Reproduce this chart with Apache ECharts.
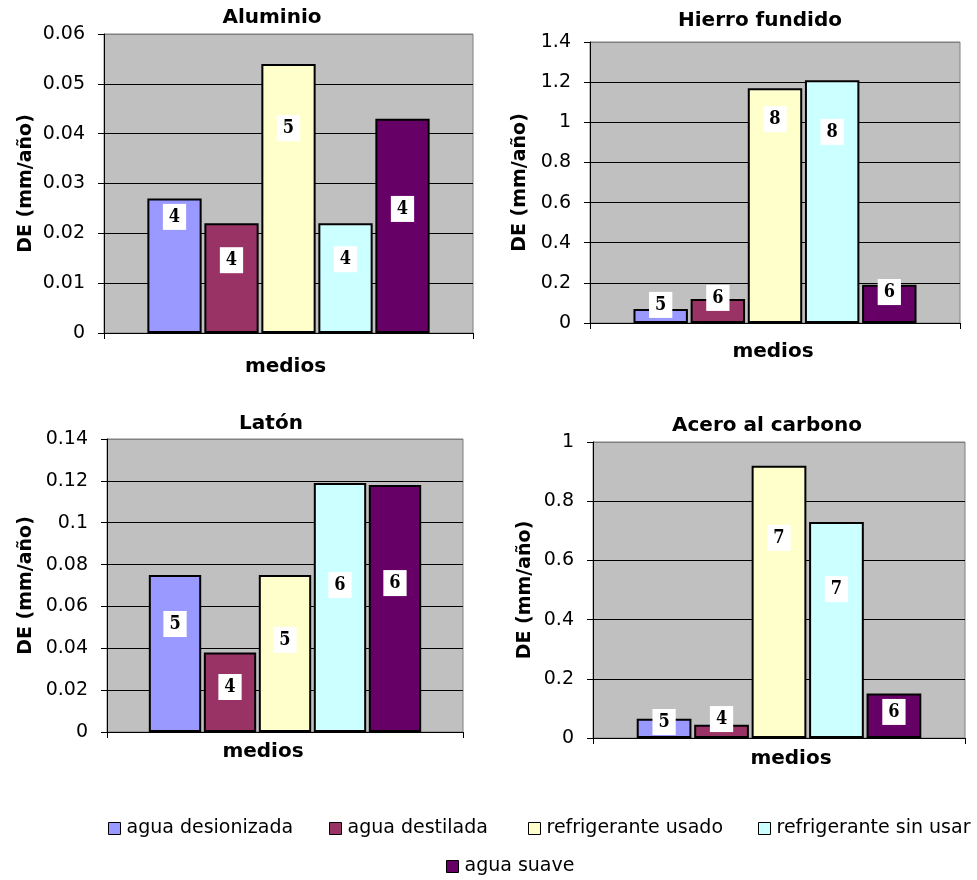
<!DOCTYPE html>
<html>
<head>
<meta charset="utf-8">
<script src="https://cdn.jsdelivr.net/npm/echarts@6/dist/echarts.min.js"></script>
<style>
  html, body { margin: 0; padding: 0; background: #ffffff; }
  #chart { width: 977px; height: 880px; }
</style>
</head>
<body>
<div id="chart"></div>
<script>
// ---- data ----
const seriesNames = ['agua desionizada', 'agua destilada', 'refrigerante usado', 'refrigerante sin usar', 'agua suave'];
const chartTitles = ['Aluminio', 'Hierro fundido', 'Latón', 'Acero al carbono'];
const categoryName = 'medios';
const yAxisName = 'DE (mm/año)';

const aluminioValues = [0.027, 0.022, 0.054, 0.022, 0.043];
const aluminioLabels = ['4', '4', '5', '4', '4'];
const aluminioLabelAt = [0.0233, 0.0146, 0.0411, 0.0148, 0.0249];

const hierroValues = [0.07, 0.12, 1.17, 1.21, 0.19];
const hierroLabels = ['5', '6', '8', '8', '6'];
const hierroLabelAt = [0.09, 0.125, 1.016, 0.952, 0.154];

const latonValues = [0.075, 0.038, 0.075, 0.119, 0.118];
const latonLabels = ['5', '4', '5', '6', '6'];
const latonLabelAt = [0.0516, 0.0215, 0.044, 0.0702, 0.0712];

const aceroValues = [0.065, 0.045, 0.92, 0.73, 0.15];
const aceroLabels = ['5', '4', '7', '7', '6'];
const aceroLabelAt = [0.054, 0.064, 0.676, 0.503, 0.088];

const yMaxes = [0.06, 1.4, 0.14, 1];
const ySteps = [0.01, 0.2, 0.02, 0.2];

// ---- styles ----
const colors = ['#9999FF', '#993366', '#FFFFCC', '#CCFFFF', '#660066'];
const allValues = [aluminioValues, hierroValues, latonValues, aceroValues];
const allLabels = [aluminioLabels, hierroLabels, latonLabels, aceroLabels];
const allLabelAt = [aluminioLabelAt, hierroLabelAt, latonLabelAt, aceroLabelAt];

const grids = [
  { left: 104, top: 34, width: 369, height: 299 },
  { left: 590, top: 42, width: 370, height: 281 },
  { left: 107, top: 439, width: 356, height: 293 },
  { left: 593, top: 442, width: 372, height: 296 }
];
const titlePos = [
  { x: 272, y: 8 }, { x: 760, y: 11 }, { x: 271, y: 414 }, { x: 767, y: 416 }
];
const yNameGaps = [68, 60, 71, 58];
const xNameGaps = [24, 19, 10, 11];
const xNamePad = [[0, 6, 0, 0], [0, 4, 0, 0], [0, 44, 0, 0], [0, 0, 0, 24]];

const FONT = "'DejaVu Sans', sans-serif";
const LABEL_FONT = "'DejaVu Serif Condensed', 'Liberation Serif', 'DejaVu Serif', serif";

const option = {
  backgroundColor: '#ffffff',
  animation: false,
  title: chartTitles.map((t, k) => ({
    text: t,
    left: titlePos[k].x,
    top: titlePos[k].y,
    textAlign: 'center',
    padding: 0,
    textStyle: { fontFamily: FONT, fontWeight: 'bold', fontSize: 20, color: '#000' }
  })),
  legend: [
    { name: seriesNames[0], left: 108, top: 819 },
    { name: seriesNames[1], left: 329, top: 819 },
    { name: seriesNames[2], left: 528, top: 819 },
    { name: seriesNames[3], left: 758, top: 819 },
    { name: seriesNames[4], left: 446, top: 857 }
  ].map(l => ({
    data: [l.name],
    left: l.left,
    top: l.top,
    padding: 0,
    itemWidth: 12,
    itemHeight: 12,
    icon: 'rect',
    selectedMode: false,
    itemStyle: { borderColor: '#000', borderWidth: 1 },
    textStyle: { fontFamily: FONT, fontSize: 19, color: '#000', padding: [0, 0, 0, 1] }
  })),
  grid: grids.map(g => Object.assign({
    show: true,
    backgroundColor: '#C0C0C0',
    borderColor: '#808080',
    borderWidth: 1,
    containLabel: false
  }, g)),
  xAxis: grids.map((g, k) => ({
    type: 'category',
    gridIndex: k,
    data: [''],
    boundaryGap: true,
    name: categoryName,
    nameLocation: 'middle',
    nameGap: xNameGaps[k],
    nameTextStyle: { fontFamily: FONT, fontWeight: 'bold', fontSize: 20, color: '#000', padding: xNamePad[k] },
    axisLine: { show: true, lineStyle: { color: '#000', width: 1 } },
    axisTick: { show: true, length: 6, lineStyle: { color: '#000' } },
    axisLabel: { show: false },
    splitLine: { show: false }
  })),
  yAxis: grids.map((g, k) => {
    const n = Math.round(yMaxes[k] / ySteps[k]) + 1;
    const lineColors = [];
    for (let i = 0; i < n; i++) lineColors.push(i === n - 1 ? '#808080' : '#000');
    return {
      type: 'value',
      gridIndex: k,
      min: 0,
      max: yMaxes[k],
      interval: ySteps[k],
      name: yAxisName,
      nameLocation: 'middle',
      nameGap: yNameGaps[k],
      nameTextStyle: { fontFamily: FONT, fontWeight: 'bold', fontSize: 19, color: '#000' },
      axisLine: { show: true, lineStyle: { color: '#000', width: 1 } },
      axisTick: { show: true, length: 6, lineStyle: { color: '#000' } },
      axisLabel: { margin: 19, fontFamily: FONT, fontSize: 19, color: '#000' },
      splitLine: { show: true, lineStyle: { color: lineColors, width: 1 } }
    };
  }),
  series: []
};

for (let k = 0; k < 4; k++) {
  for (let i = 0; i < seriesNames.length; i++) {
    const v = allValues[k][i];
    const pct = (v - allLabelAt[k][i]) / v * 100;
    option.series.push({
      type: 'bar',
      name: seriesNames[i],
      xAxisIndex: k,
      yAxisIndex: k,
      barGap: '5%',
      barCategoryGap: '23.5%',
      itemStyle: { color: colors[i], borderColor: '#000', borderWidth: 2 },
      label: {
        show: true,
        formatter: allLabels[k][i],
        fontFamily: LABEL_FONT,
        fontWeight: 'bold',
        fontSize: 18,
        color: '#000',
        backgroundColor: '#ffffff',
        padding: [4, 6],
        align: 'center',
        verticalAlign: 'middle'
      },
      data: [{ value: v, label: { position: ['50%', pct.toFixed(1) + '%'] } }]
    });
  }
}

const chart = echarts.init(document.getElementById('chart'), null, { renderer: 'canvas' });
chart.setOption(option);
</script>
</body>
</html>
